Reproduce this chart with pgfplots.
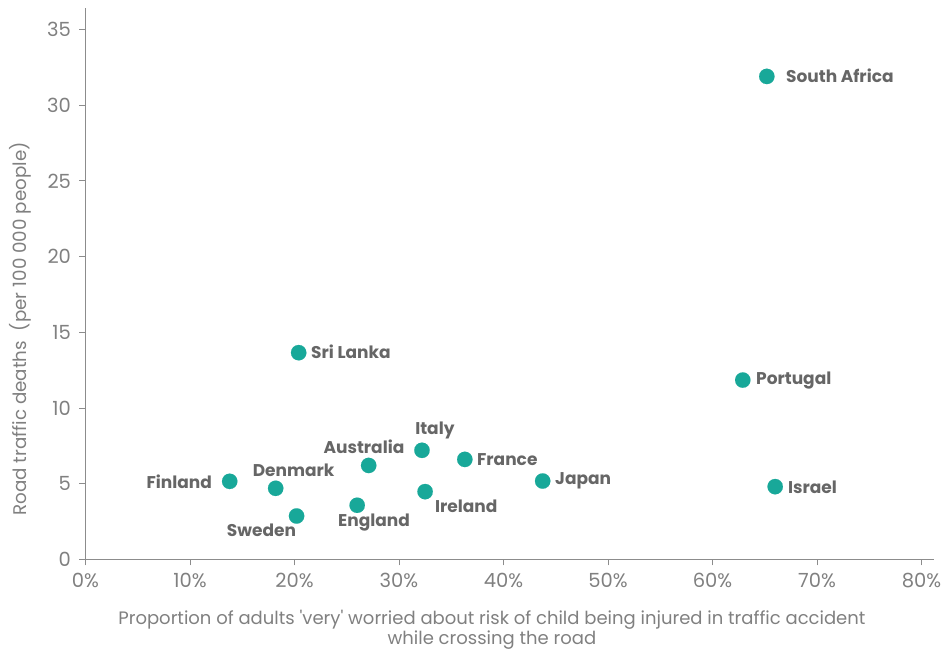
\documentclass[border=0pt]{standalone}
\usepackage{fontspec}
\setmainfont{Poppins}
\usepackage{pgfplots}
\pgfplotsset{compat=1.18}
\definecolor{dotc}{HTML}{18A899}
\definecolor{lab}{HTML}{666666}
\definecolor{tk}{HTML}{808080}
\definecolor{ax}{HTML}{8C8C8C}
\begin{document}
\begin{tikzpicture}
\useasboundingbox (-85.5pt,-95.7pt) rectangle (861.5pt,559.3pt);
\begin{axis}[
  scale only axis, width=848.5pt, height=551pt,
  xmin=0, xmax=81.2, ymin=0, ymax=36.4,
  axis lines=left, axis line style={-, ax, line width=1pt},
  xtick={0,10,...,80}, ytick={0,5,...,35},
  xticklabel={\pgfmathprintnumber{\tick}\%},
  /pgf/number format/assume math mode=true,
  tick align=outside, major tick length=6pt,
  tick style={ax, line width=0.8pt},
  ticklabel style={font=\fontsize{19.5}{21}\selectfont, text=tk},
  yticklabel style={xshift=-5pt},
  xticklabel style={yshift=-4pt},
  xlabel={Proportion of adults \textquotesingle very\textquotesingle\ worried about risk of child being injured in traffic accident\\while crossing the road},
  xlabel style={font=\fontsize{18}{20.5}\selectfont, text=tk, align=center, at={(axis description cs:0.479,0)}, anchor=north, yshift=-47pt},
  ylabel={Road traffic deaths\ \ (per 100 000 people)},
  ylabel style={font=\fontsize{18.3}{20}\selectfont, text=tk, at={(axis description cs:-0.0772,0.418)}, anchor=center},
  clip=false,
]
\addplot[only marks, mark=*, mark size=7.7pt, dotc, mark options={fill=dotc, draw=dotc, line width=0.1pt}] coordinates {
  (65.2,31.9) (62.9,11.84) (66.0,4.8) (43.75,5.17) (36.3,6.6) (32.2,7.2)
  (32.5,4.47) (27.1,6.2) (26.0,3.57) (20.2,2.86) (18.2,4.69) (13.8,5.15) (20.4,13.65)
};
\begin{scope}[every node/.style={font=\fontsize{17}{19}\selectfont\bfseries, text=lab, inner sep=0pt}]
\node[anchor=west] at (axis cs:67.03,31.92) {South Africa};
\node[anchor=west] at (axis cs:21.58,13.69) {Sri Lanka};
\node[anchor=west] at (axis cs:64.16,11.84) {Portugal};
\node[anchor=west] at (axis cs:67.22,4.78) {Israel};
\node[anchor=west] at (axis cs:44.93,5.17) {Japan};
\node[anchor=west] at (axis cs:37.46,6.56) {France};
\node at (axis cs:33.44,8.54) {Italy};
\node at (axis cs:26.65,7.44) {Australia};
\node[anchor=west] at (axis cs:33.44,3.52) {Ireland};
\node at (axis cs:27.61,2.42) {England};
\node at (axis cs:16.84,1.94) {Sweden};
\node at (axis cs:19.92,5.85) {Denmark};
\node[anchor=east] at (axis cs:12.11,5.13) {Finland};
\end{scope}
\end{axis}
\end{tikzpicture}
\end{document}
